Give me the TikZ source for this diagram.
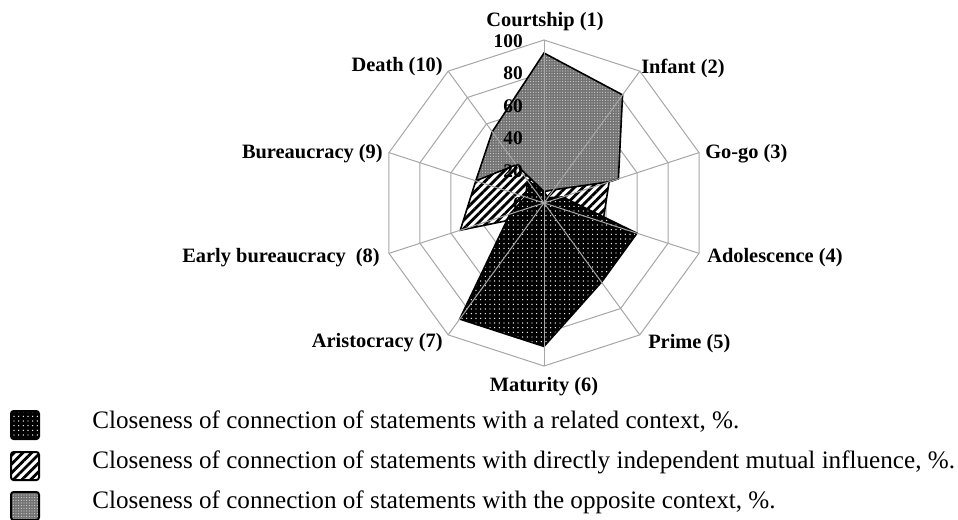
\documentclass[tikz,border=0pt]{standalone}
\usepackage{fontspec}
\setmainfont{Liberation Serif}
\usetikzlibrary{patterns.meta}
\begin{document}
\begin{tikzpicture}[x=0.75pt,y=-0.75pt,
  grid/.style={draw=black!35, line width=0.75pt},
  axlab/.style={font=\fontsize{15.3}{18}\selectfont\bfseries, inner sep=0pt},
  ticklab/.style={font=\fontsize{14.5}{17}\selectfont\bfseries, anchor=east, inner sep=0pt},
  legtext/.style={font=\fontsize{18.85}{22}\selectfont, anchor=west, inner sep=0pt},
  series/.style={draw=black, line width=1.2pt, line join=miter},
  grayfill/.style={preaction={fill=black!55}, preaction={pattern={Dots[distance=2pt,radius=0.45pt]}, pattern color=white!80!black}},
  hatchfill/.style={preaction={fill=white}, preaction={pattern={Lines[angle=45,distance=4.6pt,line width=2.1pt]}, pattern color=black}},
  dotfill/.style={preaction={fill=black}, preaction={pattern={Dots[distance=3.5pt,radius=0.55pt]}, pattern color=white}},
  legbox/.style={draw=black, line width=1.5pt, rounded corners=2pt, minimum size=21pt, inner sep=0pt},
]
\useasboundingbox (0,0) rectangle (958,519);
\fill[white] (0,0) rectangle (958,519);

\begin{scope}[shift={(544,203)}, x=1.2225pt, y=1.2225pt]
  \coordinate (O) at (0,0);
  \foreach \i in {1,...,10} {
    \coordinate (v\i) at ({90-36*(\i-1)}:100);
  }
  % rings
  \foreach \r in {20,40,...,100} {
    \draw[grid] (90:\r) foreach \a in {54,18,...,-234} { -- (\a:\r) } -- cycle;
  }
  % opposite context (gray)
  \draw[series, grayfill] (90:92) -- (54:82) -- (18:48) -- (-18:0) -- (-54:0)
     -- (-90:0) -- (-126:0) -- (-162:0) -- (-198:44) -- (-234:54) -- cycle;
  % directly independent mutual influence (hatched)
  \draw[series, hatchfill] (90:7) -- (54:10) -- (18:42) -- (-18:38) -- (-54:5)
     -- (-90:5) -- (-126:9) -- (-162:54) -- (-198:44) -- (-234:29) -- cycle;
  % related context (black dotted)
  \draw[series, dotfill] (90:7) -- (54:4) -- (18:12) -- (-18:60) -- (-54:60)
     -- (-90:88) -- (-126:88) -- (-162:22) -- (-198:12) -- (-234:17) -- cycle;
  % spokes
  \foreach \i in {1,...,10} {
    \draw[grid] (O) -- (v\i);
  }
\end{scope}

% scale labels
\node[ticklab] (t100) at (523,41) {100};
\node[ticklab] (t80) at (523,73.5) {80};
\node[ticklab] (t60) at (523,106) {60};
\node[ticklab] (t40) at (523,138.5) {40};
\node[ticklab] (t20) at (523,171) {20};
\node[ticklab] (t0) at (523,204) {0};

% axis labels
\node[axlab] (l1) at (545,22) {Courtship (1)};
\node[axlab, anchor=west] (l2) at (641,68) {Infant (2)};
\node[axlab, anchor=west] (l3) at (705,154) {Go-go (3)};
\node[axlab, anchor=west] (l4) at (707,258) {Adolescence (4)};
\node[axlab, anchor=west] (l5) at (648,344) {Prime (5)};
\node[axlab] (l6) at (544,387) {Maturity (6)};
\node[axlab, anchor=east] (l7) at (443,343) {Aristocracy (7)};
\node[axlab, anchor=east] (l8) at (380,258) {Early bureaucracy~ (8)};
\node[axlab, anchor=east] (l9) at (383,154) {Bureaucracy (9)};
\node[axlab, anchor=east] (l10) at (443,67) {Death (10)};

% legend
\node[legbox, dotfill] (k1) at (25,425) {};
\node[legbox, hatchfill] (k2) at (25,466) {};
\node[legbox, grayfill] (k3) at (25,506) {};
\node[legtext] (e1) at (92,422) {Closeness of connection of statements with a related context, \%.};
\node[legtext] (e2) at (92,462) {Closeness of connection of statements with directly independent mutual influence, \%.};
\node[legtext] (e3) at (92,502) {Closeness of connection of statements with the opposite context, \%.};
\end{tikzpicture}
\end{document}
